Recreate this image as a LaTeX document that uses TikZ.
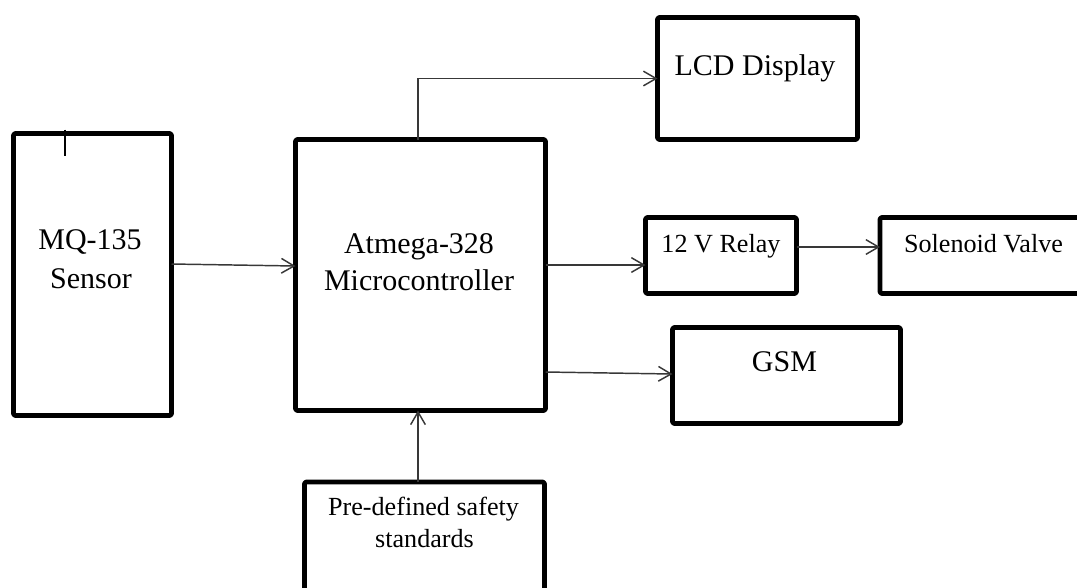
\documentclass[tikz,border=0pt]{standalone}
\usepackage{fontspec}
\setmainfont{Liberation Serif}
\usetikzlibrary{arrows.meta}
\begin{document}
\begin{tikzpicture}[x=0.75pt,y=-0.75pt,
  box/.style={draw=black,line width=3.4pt,rounded corners=1pt,line join=round,inner sep=0pt,outer sep=0pt},
  big/.style={font=\fontsize{22.5pt}{27pt}\selectfont,anchor=base,inner sep=0pt},
  small/.style={font=\fontsize{19.6pt}{23pt}\selectfont,anchor=base,inner sep=0pt},
  arr/.style={draw=black!78,line width=1.1pt,-{Straight Barb[length=9.5pt,width=11pt,line width=1.1pt]}}]
\useasboundingbox (0,0) rectangle (1077,587);
% boxes
\node[box,minimum width=118.5pt,minimum height=211.5pt] (mq) at (92.5,274.5) {};
\node[box,minimum width=187.5pt,minimum height=203.25pt] (atm) at (420.5,275) {};
\node[box,minimum width=150pt,minimum height=91.5pt] (lcd) at (757.5,78.5) {};
\node[box,minimum width=113.25pt,minimum height=57pt] (relay) at (721,255.5) {};
\node[box,minimum width=157.5pt,minimum height=57pt] (sol) at (985,255.5) {};
\node[box,minimum width=171pt,minimum height=72pt] (gsm) at (786.5,375.5) {};
\node[box,minimum width=180pt,minimum height=96pt] (pre) at (424.5,546) {};
% texts
\node[big] (t1) at (90,249) {MQ-135};
\node[big] (t2) at (91,288) {Sensor};
\node[big] (t3) at (419,253) {Atmega-328};
\node[big] (t4) at (419,290) {Microcontroller};
\node[big] (t5) at (755,75) {LCD Display};
\node[small] (t6) at (721,252) {12 V Relay};
\node[small] (t7) at (983.5,252) {Solenoid Valve};
\node[big] (t8) at (784.5,371) {GSM};
\node[small] (t9) at (423.5,515) {Pre-defined safety};
\node[small] (t10) at (424.5,547) {standards};
% tick on sensor
\draw[line width=2.2pt] (mq.north -| 65,0) ++(0,-4) -- ++(0,26);
% connectors
\draw[arr] (mq.east |- 0,264) -- (atm.west |- 0,266);
\draw[arr] ([xshift=-1.9pt]atm.north) |- (lcd.west);
\draw[arr] (atm.east |- 0,265) -- (relay.west |- 0,265);
\draw[arr] (relay.east |- 0,247) -- (sol.west |- 0,247);
\draw[arr] (atm.east |- 0,372) -- (gsm.west |- 0,374);
\draw[arr] (pre.north -| 418,0) -- (atm.south -| 418,0);
\end{tikzpicture}
\end{document}
